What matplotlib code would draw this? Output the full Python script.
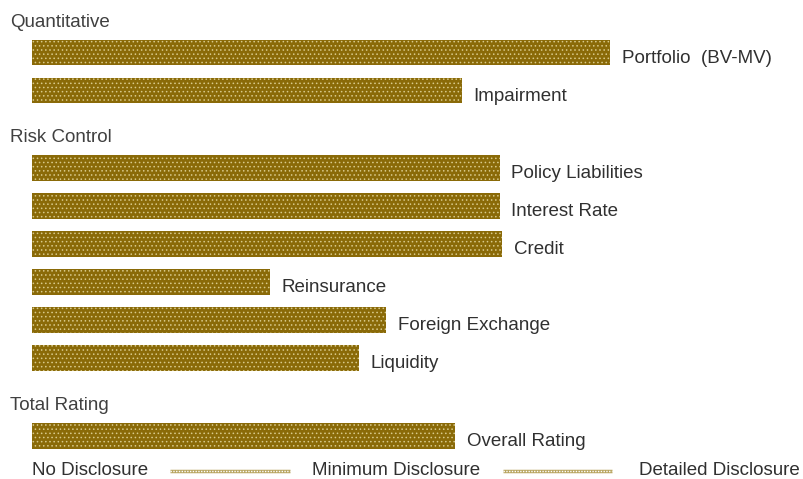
import matplotlib
matplotlib.use("Agg")
import matplotlib.pyplot as plt

plt.rcParams['font.family'] = ['Liberation Sans', 'DejaVu Sans']
plt.rcParams['hatch.linewidth'] = 0.6

# disclosure scale: 0 = no disclosure, 10 = detailed disclosure
groups = ["Quantitative", "Risk Control", "Total Rating"]
quant_items = ["Portfolio  (BV-MV)", "Impairment"]
quant_vals = [7.53, 5.60]
risk_items = ["Policy Liabilities", "Interest Rate", "Credit",
              "Reinsurance", "Foreign Exchange", "Liquidity"]
risk_vals = [6.09, 6.09, 6.12, 3.10, 4.61, 4.26]
total_items = ["Overall Rating"]
total_vals = [5.51]
scale_labels = ["No Disclosure", "Minimum Disclosure", "Detailed Disclosure"]

bar_color = "#8a6a08"
dot_color = "#d8c98a"
text_color = "#303030"

fig = plt.figure(figsize=(8.04, 4.79), dpi=100)
ax = fig.add_axes([0, 0, 1, 1])
ax.set_xlim(-0.4167, 10.052)
ax.set_ylim(12.6, 0)   # rows of 38 px
ax.axis("off")

y = 0.58
for name, items, vals in zip(groups, [quant_items, risk_items, total_items],
                             [quant_vals, risk_vals, total_vals]):
    ax.text(-0.29, y, name, fontsize=13.5, color="#404040",
            va="center", ha="left")
    y += 0.8
    for item, v in zip(items, vals):
        ax.barh(y, v, height=0.68, left=0, color=bar_color, linewidth=0)
        ax.barh(y, v, height=0.68, left=0, facecolor="none",
                edgecolor=dot_color, hatch="....", linewidth=0)
        ax.text(v + 0.15, y + 0.15, item, fontsize=13.5, color=text_color,
                va="center", ha="left")
        y += 1.0
    y += 0.24

# scale legend along the bottom
ly = 12.38
ax.text(0, ly, scale_labels[0], fontsize=13.5, color=text_color, va="center", ha="left")
ax.text(4.74, ly, scale_labels[1], fontsize=13.5, color=text_color, va="center", ha="center")
ax.text(10.0, ly, scale_labels[2], fontsize=13.5, color=text_color, va="center", ha="right")
for x0, x1 in [(1.80, 3.36), (6.13, 7.55)]:
    ax.plot([x0, x1], [ly, ly], color="#b8a560", linewidth=2.5, solid_capstyle="butt")
    ax.plot([x0, x1], [ly, ly], color="white", linewidth=1, linestyle=(0, (1, 1)))

fig.savefig("out.png", dpi=100, facecolor="white")
